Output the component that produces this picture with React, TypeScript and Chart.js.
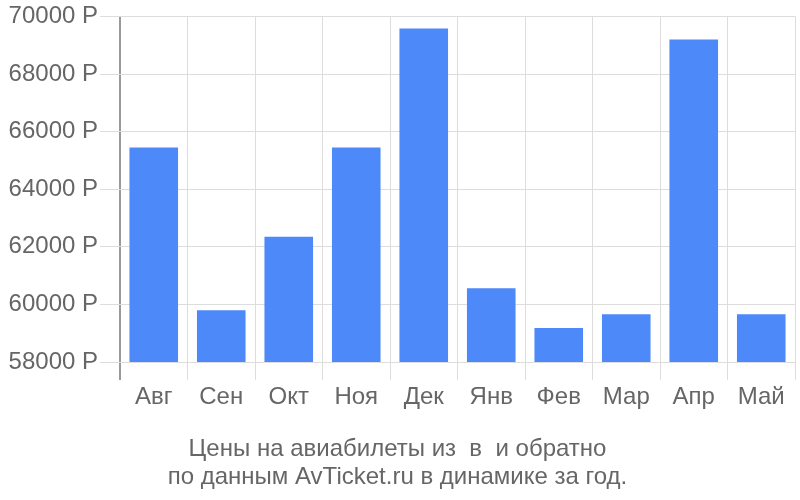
import React, { useEffect, useRef } from "react";
import { Chart, registerables } from "chart.js";

Chart.register(...registerables);

const months = ["Авг", "Сен", "Окт", "Ноя", "Дек", "Янв", "Фев", "Мар", "Апр", "Май"];
const prices = [65450, 59800, 62350, 65450, 69580, 60560, 59180, 59660, 69200, 59660];
const titleLines = ["Цены на авиабилеты из  в  и обратно", "по данным AvTicket.ru в динамике за год."];
const yMin = 58000;
const yMax = 70000;
const yStep = 2000;

const FONT = "'Liberation Sans', Arial, sans-serif";

export default function App() {
  const ref = useRef<HTMLCanvasElement | null>(null);
  useEffect(() => {
    document.body.style.margin = "0";
    const canvas = ref.current;
    if (!canvas) return;
    const chart = new Chart(canvas, {
      type: "bar",
      data: {
        labels: months,
        datasets: [
          {
            data: prices,
            backgroundColor: "#4d89f9",
            borderWidth: 0,
          },
        ],
      },
      options: {
        animation: false,
        responsive: false,
        layout: { padding: { left: 0, right: 5, top: 14, bottom: 0 } },
        plugins: {
          legend: { display: false },
          tooltip: { enabled: false },
          title: {
            display: true,
            position: "bottom",
            text: titleLines,
            color: "#666",
            font: { family: FONT, size: 24, weight: "normal", lineHeight: 28 / 24 },
            padding: { top: 26, bottom: 9 },
          },
        },
        scales: {
          x: {
            grid: {
              offset: true,
              color: (ctx: any) => (ctx.index === 0 ? "#999" : "#ddd"),
              lineWidth: (ctx: any) => (ctx.index === 0 ? 2 : 1),
              tickLength: 18,
            },
            border: { display: false },
            ticks: {
              color: "#666",
              font: { family: FONT, size: 24 },
              padding: 3,
              maxRotation: 0,
            },
            afterFit: (scale: any) => {
              scale.height = 47;
            },
          },
          y: {
            min: yMin,
            max: yMax,
            grid: { color: "#ddd", tickLength: 20 },
            border: { display: false },
            ticks: {
              stepSize: yStep,
              color: "#666",
              font: { family: FONT, size: 24 },
              padding: 2,
              callback: (v: any) => `${v} Р`,
            },
            afterFit: (scale: any) => {
              scale.width = 120;
            },
          },
        },
      },
    });
    return () => chart.destroy();
  }, []);
  return (
    <div style={{ width: 800, height: 500 }}>
      <canvas ref={ref} width={800} height={500} />
    </div>
  );
}
